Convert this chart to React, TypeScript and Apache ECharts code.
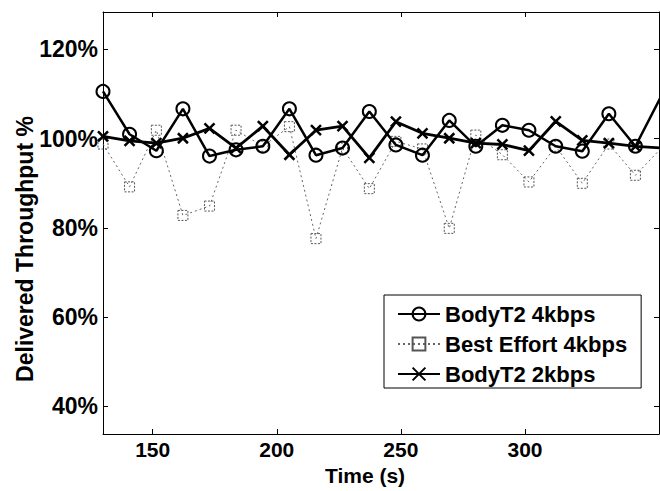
import React, { useEffect, useRef } from "react";
import * as echarts from "echarts";

// Time (s) of each sample
const timeS = [130.0, 140.7, 151.5, 162.2, 172.9, 183.6, 194.4, 205.1, 215.8, 226.5, 237.3, 248.0, 258.7, 269.5, 280.2, 290.9, 301.6, 312.4, 323.1, 333.8, 344.5, 355.3];
// Delivered throughput (%)
const bodyT2_4k = [110.6, 101.0, 97.3, 106.7, 96.1, 97.5, 98.3, 106.7, 96.3, 97.9, 106.1, 98.6, 96.3, 104.1, 98.3, 103.0, 101.9, 98.3, 97.2, 105.6, 98.3, 110.0];
const bestEffort4k = [98.8, 89.2, 101.9, 82.8, 84.9, 101.9, 98.3, 102.7, 77.6, 97.9, 88.8, 99.4, 97.7, 79.9, 100.8, 96.4, 90.3, 98.3, 90.0, 98.8, 91.8, 98.1];
const bodyT2_2k = [100.5, 99.5, 99.0, 100.1, 102.3, 97.9, 102.8, 96.4, 101.9, 102.8, 95.7, 103.8, 101.2, 100.1, 99.0, 98.7, 97.3, 103.9, 99.6, 99.0, 98.3, 97.9];

const seriesNames = ["BodyT2 4kbps", "Best Effort 4kbps", "BodyT2 2kbps"];
const xTicks = [150, 200, 250, 300];
const yTicks = [40, 60, 80, 100, 120];
const xTitle = "Time (s)";
const yTitle = "Delivered Throughput %";

const FONT = "'Liberation Sans', Arial, Helvetica, sans-serif";
const CROSS = "path://M0,0L10,10M10,0L0,10";

export default function App() {
  const ref = useRef<HTMLDivElement>(null);
  useEffect(() => {
    const chart = echarts.init(ref.current!, null, { renderer: "svg" });
    const pair = (ys: number[]) => timeS.map((t, i) => [t, ys[i]]);
    const labelStyle = { fontSize: 21, fontWeight: "bold", color: "#000", fontFamily: FONT };
    const xBase = {
      type: "value",
      min: 130,
      max: 354,
      splitLine: { show: false },
      axisLine: { show: true, lineStyle: { color: "#000", width: 1 } },
      axisTick: { show: true, inside: true, length: 5, customValues: xTicks, lineStyle: { color: "#000" } },
    };
    const yBase = {
      type: "value",
      min: 33.8,
      max: 128.4,
      splitLine: { show: false },
      axisLine: { show: true, lineStyle: { color: "#000", width: 1 } },
      axisTick: { show: true, inside: true, length: 5, customValues: yTicks, lineStyle: { color: "#000" } },
    };
    chart.setOption({
      animation: false,
      backgroundColor: "#fff",
      grid: { left: 103, right: 1, top: 12, bottom: 51, containLabel: false },
      graphic: [
        {
          type: "text",
          x: 25,
          y: 249,
          rotation: Math.PI / 2,
          style: {
            text: yTitle,
            fontSize: 23,
            fontWeight: "bold",
            fontFamily: FONT,
            fill: "#000",
            align: "center",
            verticalAlign: "middle",
          },
        },
      ],
      xAxis: [
        {
          ...xBase,
          position: "bottom",
          axisLabel: { ...labelStyle, customValues: xTicks, margin: 5 },
          name: xTitle,
          nameLocation: "middle",
          nameGap: 31,
          nameTextStyle: { ...labelStyle, padding: [0, 32, 0, 0] },
        },
        { ...xBase, position: "top", axisLabel: { show: false } },
      ],
      yAxis: [
        {
          ...yBase,
          position: "left",
          axisLabel: { ...labelStyle, fontSize: 23, customValues: yTicks, margin: 5, formatter: "{value}%" },
        },
        { ...yBase, position: "right", axisLabel: { show: false } },
      ],
      legend: {
        show: true,
        orient: "vertical",
        left: 384,
        top: 295,
        itemWidth: 42,
        itemHeight: 16,
        itemGap: 8,
        padding: [8, 14, 3, 13],
        borderColor: "#000",
        borderWidth: 1,
        backgroundColor: "#fff",
        textStyle: { ...labelStyle, fontSize: 22, lineHeight: 22 },
        data: seriesNames,
      },
      series: [
        {
          name: seriesNames[0],
          type: "line",
          data: pair(bodyT2_4k),
          symbol: "circle",
          symbolSize: 13,
          showAllSymbol: true,
          lineStyle: { color: "#000", width: 2.5 },
          itemStyle: { color: "transparent", borderColor: "#000", borderWidth: 2 },
          z: 3,
        },
        {
          name: seriesNames[1],
          type: "line",
          data: pair(bestEffort4k),
          symbol: "rect",
          symbolSize: 10,
          showAllSymbol: true,
          lineStyle: { color: "#666", width: 1, type: [2, 3] },
          itemStyle: { color: "transparent", borderColor: "#555", borderWidth: 1, borderType: [2, 1.5] },
          z: 2,
        },
        {
          name: seriesNames[2],
          type: "line",
          data: pair(bodyT2_2k),
          symbol: CROSS,
          symbolSize: 10,
          showAllSymbol: true,
          lineStyle: { color: "#000", width: 2.8 },
          itemStyle: { color: "none", borderColor: "#000", borderWidth: 2.5 },
          z: 4,
        },
      ],
    });
    return () => chart.dispose();
  }, []);
  return <div ref={ref} style={{ position: "absolute", left: 0, top: 0, width: 660, height: 491 }} />;
}
